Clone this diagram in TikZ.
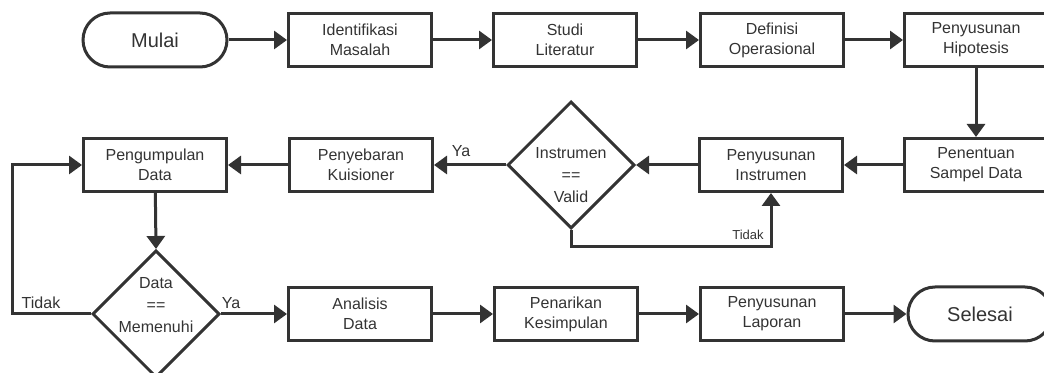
\documentclass[tikz,border=0pt]{standalone}
\usepackage{fontspec}
\setmainfont{Liberation Sans}
\usetikzlibrary{arrows.meta,shapes.geometric}
\definecolor{ink}{HTML}{333333}
\tikzset{
  base/.style={draw=ink, line width=1.5pt, text=ink, inner sep=0pt, align=center,
    font=\fontsize{8}{10}\selectfont},
  box/.style={base, rectangle, minimum width=71.5pt, minimum height=26.5pt},
  term/.style={base, rectangle, rounded corners=13.5pt, minimum width=72pt, minimum height=27pt,
    font=\fontsize{10}{12}\selectfont},
  dia/.style={draw=ink, line width=1.5pt, diamond, inner sep=0pt, minimum width=63.5pt, minimum height=63.5pt},
  diatext/.style={text=ink, inner sep=0pt, align=center, font=\fontsize{8}{11}\selectfont},
  lbl/.style={text=ink, inner sep=0pt, font=\fontsize{8}{10}\selectfont},
  conn/.style={draw=ink, line width=1.5pt, -{Triangle[length=6.5pt,width=9pt]}},
}
\begin{document}
\begin{tikzpicture}[x=0.5pt,y=-0.5pt]
\clip (0,0) rectangle (1044,373);
% row 1
\node[term] (mulai) at (155,40) {Mulai};
\node[box] (ident) at (360,40) {Identifikasi\\Masalah};
\node[box] (studi) at (565,40) {Studi\\Literatur};
\node[box] (defin) at (772,40) {Definisi\\Operasional};
\node[box] (hipo) at (976,40) {Penyusunan\\Hipotesis};
% row 2
\node[box] (sampel) at (976,165) {Penentuan\\Sampel Data};
\node[box] (instr) at (771,165) {Penyusunan\\Instrumen};
\node[dia] (valid) at (571,165) {};
\node[diatext] (validt) at (571,175) {Instrumen\\==\\Valid};
\node[box] (sebar) at (361,165) {Penyebaran\\Kuisioner};
\node[box] (kumpul) at (155,165) {Pengumpulan\\Data};
% row 3
\node[dia] (penuh) at (156,314) {};
\node[diatext] (penuht) at (156,305) {Data\\==\\Memenuhi};
\node[box] (anal) at (360,314) {Analisis\\Data};
\node[box] (tarik) at (566,314) {Penarikan\\Kesimpulan};
\node[box] (lapor) at (772,314) {Penyusunan\\Laporan};
\node[term] (selesai) at (980,314) {Selesai};
\coordinate (lft) at (12,0);
% connectors
\draw[conn] (mulai) -- (ident);
\draw[conn] (ident) -- (studi);
\draw[conn] (studi) -- (defin);
\draw[conn] (defin) -- (hipo);
\draw[conn] (hipo) -- (sampel);
\draw[conn] (sampel) -- (instr);
\draw[conn] (instr) -- (valid.east);
\draw[conn] (valid.west) -- (sebar);
\draw[conn] (valid.south) -- ++(0,17) -| (instr.south);
\draw[conn] (sebar) -- (kumpul);
\draw[conn] (kumpul) -- (penuh.north);
\draw[conn] (penuh.west) -- (penuh.west -| lft) |- (kumpul.west);
\draw[conn] (penuh.east) -- (anal.west);
\draw[conn] (anal) -- (tarik);
\draw[conn] (tarik) -- (lapor);
\draw[conn] (lapor) -- (selesai);
% labels
\node[lbl] (ya1) at (461,151) {Ya};
\node[lbl,font=\fontsize{6.5}{8}\selectfont] (tidak1) at (748,235) {Tidak};
\node[lbl] (tidak2) at (41,303) {Tidak};
\node[lbl] (ya2) at (231,303) {Ya};
\end{tikzpicture}
\end{document}
